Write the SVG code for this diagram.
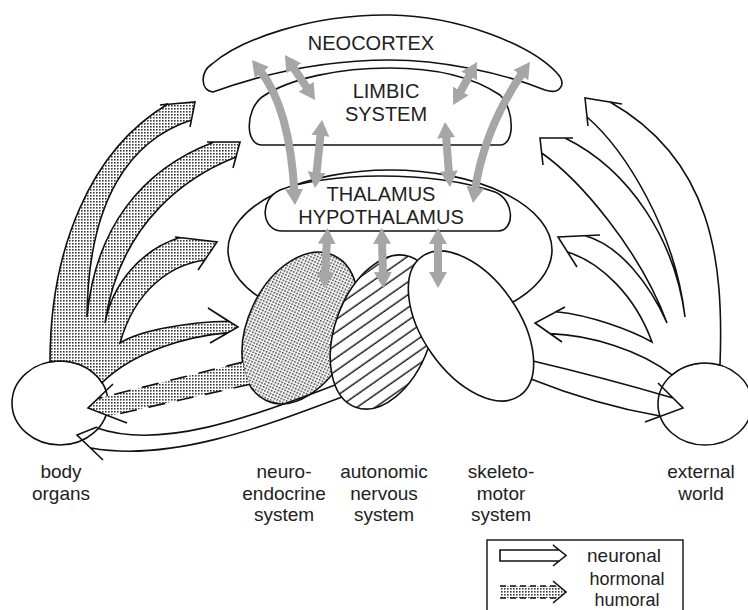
<svg xmlns="http://www.w3.org/2000/svg" width="748" height="610" viewBox="0 0 748 610">
<defs>
<pattern id="dots" patternUnits="userSpaceOnUse" width="3" height="3"><rect width="3" height="3" fill="#fff"/><rect width="1.6" height="1.6" fill="#3a3a3a"/></pattern>
<pattern id="hatch" patternUnits="userSpaceOnUse" width="10.5" height="10.5" patternTransform="rotate(35)"><rect width="10.5" height="10.5" fill="#fff"/><line x1="5" y1="-1" x2="5" y2="12" stroke="#111" stroke-width="1.4"/></pattern>
<marker id="gh" viewBox="0 -10 16 20" markerWidth="16" markerHeight="20" refX="4" refY="0" orient="auto-start-reverse" markerUnits="userSpaceOnUse"><path d="M0,-9 L16,0 L0,9 Z" fill="#a6a6a6"/></marker>
</defs>
<style>
.o{fill:#fff;stroke:#111;stroke-width:1.6}
.ln{fill:none;stroke:#111;stroke-width:1.6}
.g{fill:none;stroke:#a6a6a6;stroke-width:8}
text{font-family:"Liberation Sans",Arial,sans-serif;fill:#222;text-anchor:middle;font-size:20px}
.s{font-size:19px}
.l{font-size:18px}
</style>
<rect width="748" height="610" fill="#fff"/>
<g id="neocortex">
<path class="o" d="M213,92 C200,90 200,72 212,64 C240,40 310,14 390,15 C460,16 530,45 556,72 C568,84 560,95 545,90 C500,72 440,60 390,60 C320,60 260,75 213,92 Z"/>
<text x="371" y="50">NEOCORTEX</text>
</g>
<g id="limbic-system">
<path class="o" d="M262,145 L500,145 C515,145 515,110 500,95 C470,75 430,68 390,68 C340,68 290,78 262,97 C245,110 245,145 262,145 Z"/>
<text x="386" y="98">LIMBIC</text>
<text x="386" y="120.5">SYSTEM</text>
</g>
<g id="brainstem">
<ellipse class="o" cx="390" cy="250" rx="162" ry="80"/>
</g>
<g id="thalamus-hypothalamus">
<path class="o" d="M282,231 L498,231 C515,231 515,200 495,192 C460,180 420,176 380,176 C340,176 300,182 280,190 C258,200 262,231 282,231 Z"/>
<text x="381" y="201.3">THALAMUS</text>
<text x="381" y="223.8">HYPOTHALAMUS</text>
</g>
<g id="neuroendocrine-system">
<ellipse cx="300" cy="328" rx="52" ry="80" transform="rotate(25 300 328)" fill="url(#dots)" stroke="#111" stroke-width="1.6"/>
<text class="s" x="284" y="478.2">neuro-</text>
<text class="s" x="284" y="499.5">endocrine</text>
<text class="s" x="284" y="520.8">system</text>
</g>
<g id="autonomic-nervous-system">
<ellipse cx="383" cy="332" rx="48" ry="80" transform="rotate(20 383 332)" fill="url(#hatch)" stroke="#111" stroke-width="1.6"/>
<text class="s" x="384" y="478.2">autonomic</text>
<text class="s" x="384" y="499.5">nervous</text>
<text class="s" x="384" y="520.8">system</text>
</g>
<g id="skeletomotor-system">
<ellipse class="o" cx="471" cy="326" rx="85" ry="48" transform="rotate(55 471 326)"/>
<text class="s" x="501" y="478.2">skeleto-</text>
<text class="s" x="501" y="499.5">motor</text>
<text class="s" x="501" y="520.8">system</text>
</g>
<g id="body-organs">
<ellipse class="o" cx="60" cy="403" rx="48" ry="42"/>
<text class="s" x="61" y="478.2">body</text>
<text class="s" x="61" y="499.5">organs</text>
</g>
<g id="external-world">
<ellipse class="o" cx="705" cy="404" rx="47" ry="41"/>
<text class="s" x="701" y="478.2">external</text>
<text class="s" x="701" y="499.5">world</text>
</g>
<g id="connectors">
<path d="M50,361.9 C50,250 90,150 168,104 L160,105 L195,102 L190,127 L191.4,120 C130,140 88,200 87,317 C95,230 140,170 214,142 L207,142 L240,142 L233,168 L236,157 C190,175 120,220 105,323 C112,285 140,250 180,237.6 L175,237 L217,242 L198,270 L204.8,260 C170,265 135,290 120,343 C140,330 190,322 228.6,321.3 L208,308 L238,327 L210,343 L228.5,332.6 C190,336 135,350 102,382.7 A48,42 0 0 0 50,361.9 Z" fill="url(#dots)" stroke="#111" stroke-width="1.6"/>
<path d="M720,365.1 C724,260 712,160 610,102 L622,104 L585,98 L588,126 L587,117 C625,150 675,230 685,317 C675,240 630,170 565,138 L573,138 L540,138 L543,165 L541.7,153 C580,180 640,250 667,323 C650,285 620,245 585,235.7 L600,235 L558,237 L577,267 L567.5,252 C600,262 635,295 652,342 C630,330 590,315 556,311.8 L565,307 L535,323 L562,342 L550,333.6 C590,335 640,350 672,374.8 A47,41 0 0 1 720,365.1 Z" fill="#fff" stroke="#111" stroke-width="1.6"/>
<path d="M243,362 L98,398.5 L113,384 L88,408 L127,423 L109,416 L250,384.3 A52,80 25 0 1 243,362 Z" fill="url(#dots)"/>
<path class="ln" d="M243,362 L98,398.5 M250,384.3 L109,416" stroke-dasharray="17 12"/>
<path class="ln" d="M113,384 L88,408 L127,423"/>
<path class="ln" d="M335,385 C250,418 160,450 97,428 M342,397 C260,428 170,462 91,448 M97,427 L77,435 L103,460"/>
<path class="ln" d="M533,361 Q605,378 673,398 M531,379 Q596,405 660,416 M658,383 L683,408 L645,422"/>
<g class="g" marker-start="url(#gh)" marker-end="url(#gh)">
<path d="M259.4,69.4 Q290,108 294.4,193"/>
<path d="M291.6,65 L308.4,90"/>
<path d="M320.8,131.9 L316.2,176.1"/>
<path d="M445.9,134 L449.1,175"/>
<path d="M471.1,72.5 L458.9,94.5"/>
<path d="M523.1,71.9 Q484.5,127.5 474.8,191.1"/>
<path d="M327,240 L325,276"/>
<path d="M382,240 L383,276"/>
<path d="M438,240 L438,276"/>
</g>
</g>
<g id="legend">
<rect x="487" y="540" width="196" height="80" fill="none" stroke="#111" stroke-width="1.4"/>
<path class="ln" d="M500,550 L559,550 L553,545 L566,555.5 L553,566 L559,561 L500,561 Z"/>
<path d="M500,586 L559,586 L553,581 L566,592 L553,603 L559,598 L500,598 Z" fill="url(#dots)"/>
<path class="ln" d="M500,586 L559,586 M500,598 L559,598" stroke-dasharray="6 4"/>
<path class="ln" d="M553,581 L566,592 L553,603"/>
<text class="s" x="624" y="562">neuronal</text>
<text class="l" x="627" y="585.4">hormonal</text>
<text class="l" x="627" y="605.6">humoral</text>
</g>
</svg>
